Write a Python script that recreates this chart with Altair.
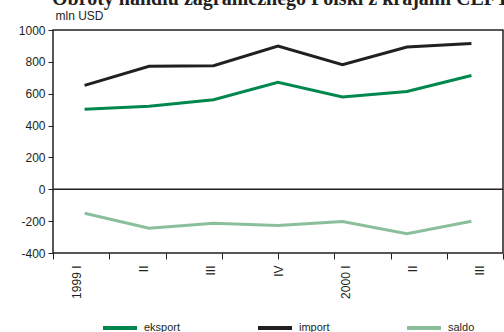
import altair as alt
import pandas as pd

# Quarterly trade with CEFTA countries, mln USD
quarters = ["1999 I", "II", "III", "IV", "2000 I", "II ", "III "]
eksport = [502, 522, 562, 671, 580, 614, 714]
import_ = [652, 772, 776, 899, 782, 893, 915]
saldo = [-150, -245, -214, -228, -202, -279, -201]

series_names = ["eksport", "import", "saldo"]
series_colors = ["#00874e", "#231f20", "#8bbf9b"]
y_ticks = [-400, -200, 0, 200, 400, 600, 800, 1000]
chart_title = "Obroty handlu zagranicznego Polski z krajami CEFTA"

rows = []
for i, q in enumerate(quarters):
    rows.append({"kwartal": q, "seria": "eksport", "wartosc": eksport[i]})
    rows.append({"kwartal": q, "seria": "import", "wartosc": import_[i]})
    rows.append({"kwartal": q, "seria": "saldo", "wartosc": saldo[i]})
df = pd.DataFrame(rows)

FONT = "Liberation Sans"
INK = "#231f20"

y_scale = alt.Scale(domain=[-400, 1000], nice=False, zero=False)

y_main = alt.Y(
    "wartosc:Q",
    scale=y_scale,
    axis=alt.Axis(
        values=y_ticks,
        labelExpr="datum.value + ''",
        labelOverlap=False,
        title="mln USD",
        titleAngle=0,
        titleAlign="left",
        titleBaseline="alphabetic",
        titleX=2,
        titleY=-11,
        titleFont=FONT,
        titleFontSize=12,
        titleFontWeight="normal",
        titleColor=INK,
        labelFont=FONT,
        labelFontSize=12,
        labelColor=INK,
        labelPadding=3,
        tickSize=5,
        tickColor=INK,
        domain=False,
        grid=False,
    ),
)
# helper layers share the y scale but draw no y axis of their own
y_plain = alt.Y("wartosc:Q", scale=y_scale, axis=None)

lines = (
    alt.Chart(df)
    .mark_line(strokeWidth=3, strokeCap="butt", strokeJoin="miter")
    .encode(
        x=alt.X("kwartal:N", sort=quarters, scale=alt.Scale(type="point", padding=0.49), axis=None),
        y=y_main,
        color=alt.Color(
            "seria:N",
            scale=alt.Scale(domain=series_names, range=series_colors),
            legend=alt.Legend(
                title=None,
                orient="none",
                legendX=48,
                legendY=279,
                direction="horizontal",
                columns=3,
                columnPadding=69,
                gridAlign="none",
                symbolType="stroke",
                symbolSize=1156,
                symbolStrokeWidth=4,
                symbolOffset=0,
                labelOffset=5,
                labelFont=FONT,
                labelFontSize=11,
                labelColor=INK,
            ),
        ),
    )
)

# zero reference line
zero = (
    alt.Chart(pd.DataFrame({"wartosc": [0]}))
    .mark_rule(color=INK, strokeWidth=1.5)
    .encode(y=y_plain)
)

# category labels along the bottom
label_axis = (
    alt.Chart(df)
    .mark_point(opacity=0)
    .encode(
        x=alt.X(
            "kwartal:N",
            sort=quarters,
            scale=alt.Scale(type="point", padding=0.35),
            axis=alt.Axis(
                orient="bottom",
                title=None,
                labelAngle=270,
                labelAlign="right",
                labelBaseline="middle",
                labelFont=FONT,
                labelFontSize=12,
                labelColor=INK,
                labelPadding=12,
                ticks=False,
                domain=False,
                grid=False,
            ),
        ),
        y=y_plain,
    )
)

# evenly spaced tick marks on the bottom edge
tick_axis = (
    alt.Chart(df)
    .mark_point(opacity=0)
    .encode(
        x=alt.X(
            "pos:Q",
            scale=alt.Scale(domain=[0, 8], nice=False),
            axis=alt.Axis(
                orient="bottom",
                title=None,
                tickCount=8,
                labels=False,
                tickSize=6,
                tickColor=INK,
                tickWidth=1,
                domain=False,
                grid=False,
            ),
        ),
        y=y_plain,
    )
    .transform_calculate(pos="0")
)

# chart heading, running off the top and right edges
heading = (
    alt.Chart(pd.DataFrame({"t": [chart_title]}))
    .mark_text(
        align="left",
        baseline="alphabetic",
        font="Liberation Serif",
        fontSize=20,
        fontWeight="bold",
        color=INK,
    )
    .encode(x=alt.value(-1), y=alt.value(-25), text="t:N")
)

chart = (
    alt.layer(lines, zero, label_axis, tick_axis, heading)
    .resolve_scale(x="independent")
    .resolve_axis(y="independent")
    .properties(
        width=450,
        height=223,
        autosize=alt.AutoSizeParams(type="none"),
        padding={"left": 53, "top": 30, "right": 1, "bottom": 79},
    )
    .configure(background="white")
    .configure_view(stroke=INK, strokeWidth=1.5)
)

chart.save("out.html", embed_options={"renderer": "svg", "actions": False})
